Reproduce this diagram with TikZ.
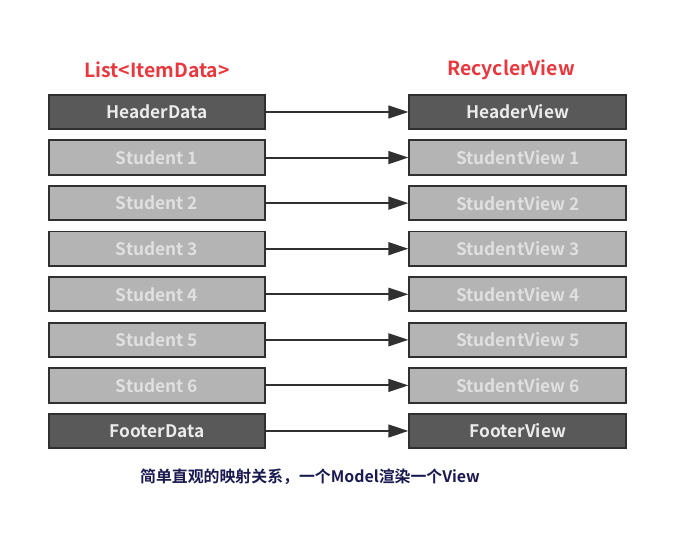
\documentclass[tikz,border=0pt]{standalone}
\usepackage{fontspec}
\setmainfont{Noto Sans CJK SC}[BoldFont={* Bold}]
\usetikzlibrary{arrows.meta, positioning}
\definecolor{darkbox}{HTML}{595959}
\definecolor{lightbox}{HTML}{B4B4B4}
\definecolor{boxline}{HTML}{303030}
\definecolor{titlered}{HTML}{E8383D}
\definecolor{captionblue}{HTML}{1A1A50}

\begin{document}
\begin{tikzpicture}[
    node distance=0.23cm,
    box/.style={draw=boxline, line width=1.4pt, minimum width=5.42cm, minimum height=0.86cm, font=\bfseries\fontsize{12.3}{14}\selectfont},
    darkitem/.style={box, fill=darkbox, text=white!92!black},
    lightitem/.style={box, fill=lightbox, text=white!88!black},
    title/.style={font=\bfseries\fontsize{13.8}{16}\selectfont, text=titlered},
    every edge/.style={draw, -{Triangle[length=0.5cm, width=0.32cm]}}
]
    \useasboundingbox (0,0) rectangle (17.2,-13.95);

    % Titles
    \node[title] (listtitle) at (3.925,-1.75) {List<ItemData>};
    \node[title] (rvtitle) at (12.775,-1.75) {RecyclerView};

    % Data column
    \node[darkitem] (headerdata) at (3.925,-2.8) {HeaderData};
    \node[lightitem, below=of headerdata] (student1) {Student 1};
    \foreach \i [evaluate=\i as \j using int(\i-1)] in {2,...,6}
        \node[lightitem, below=of student\j] (student\i) {Student \i};
    \node[darkitem, below=of student6] (footerdata) {FooterData};

    % View column
    \node[darkitem, right=3.55cm of headerdata] (headerview) {HeaderView};
    \foreach \i in {1,...,6}
        \node[lightitem, right=3.55cm of student\i] (studentview\i) {StudentView \i};
    \node[darkitem, right=3.55cm of footerdata] (footerview) {FooterView};

    % Arrows
    \draw[boxline, line width=1.4pt] (headerdata) edge (headerview);
    \foreach \i in {1,...,6}
        \draw[boxline, line width=1.4pt] (student\i) edge (studentview\i);
    \draw[boxline, line width=1.4pt] (footerdata) edge (footerview);

    % Caption
    \node[font=\bfseries\fontsize{11.3}{13}\selectfont, text=captionblue] (caption) at (7.75,-11.925) {简单直观的映射关系，一个Model渲染一个View};
\end{tikzpicture}
\end{document}
